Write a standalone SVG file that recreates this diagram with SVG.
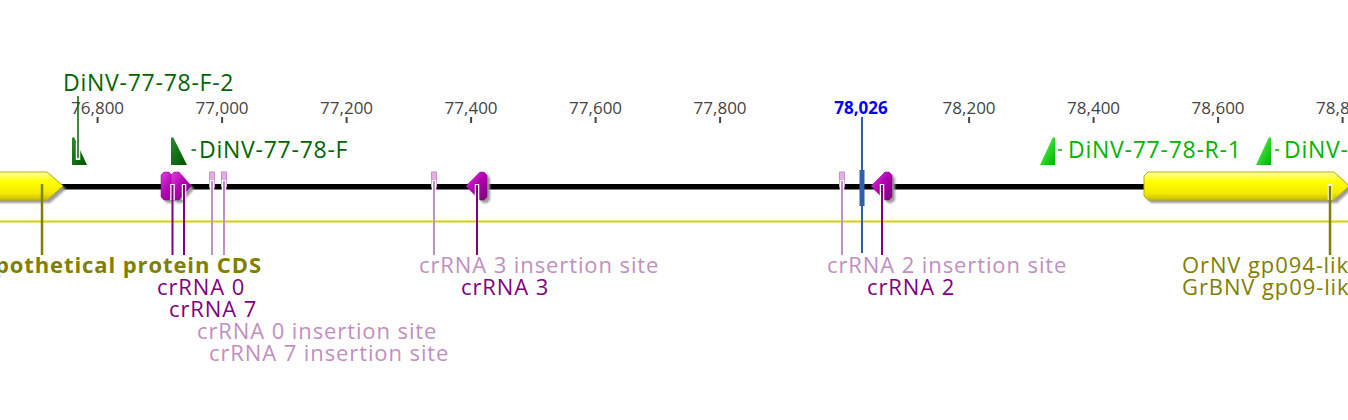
<svg xmlns="http://www.w3.org/2000/svg" width="1348" height="420" viewBox="0 0 1348 420">
<defs>
  <linearGradient id="gy" x1="0" y1="0" x2="0" y2="1">
    <stop offset="0" stop-color="#ffffa0"/>
    <stop offset="0.35" stop-color="#ffff00"/>
    <stop offset="0.75" stop-color="#f2ea00"/>
    <stop offset="1" stop-color="#c8bc00"/>
  </linearGradient>
  <linearGradient id="gm" x1="0" y1="0" x2="1" y2="1">
    <stop offset="0" stop-color="#e040e0"/>
    <stop offset="0.5" stop-color="#b000b0"/>
    <stop offset="1" stop-color="#7a007a"/>
  </linearGradient>
  <linearGradient id="gdg" x1="0" y1="0" x2="1" y2="1">
    <stop offset="0" stop-color="#2a8a2a"/>
    <stop offset="1" stop-color="#005400"/>
  </linearGradient>
  <linearGradient id="gbg" x1="0" y1="0" x2="1" y2="1">
    <stop offset="0" stop-color="#60ff60"/>
    <stop offset="1" stop-color="#00b000"/>
  </linearGradient>
  <filter id="blur" x="-20%" y="-20%" width="140%" height="140%">
    <feGaussianBlur stdDeviation="1.2"/>
  </filter>
</defs>
<style>
  text{font-family:"Open Sans","Noto Sans",sans-serif}
  .tick{stroke:#444;stroke-width:2}
  .tl{font-size:17px;fill:#444;text-anchor:middle}
  .lab{font-size:22px;letter-spacing:0.9px}
  .prim{font-size:23px;letter-spacing:0.75px}
  .olive{fill:#808000}
  .purp{fill:#800080}
  .pale{fill:#bf8fbf}
  .dg{fill:#006400}
  .bg{fill:#00b400}
  .shadow{fill:#9a9a9a;filter:url(#blur)}
  .cds{fill:url(#gy);stroke:#c0b000;stroke-width:1}
  .cr{fill:url(#gm);stroke:#8a008a;stroke-width:0.5}
  .ins{fill:#e4aee4;stroke:#c890c8;stroke-width:1}
  .halo{stroke:#fff;stroke-width:4.5}
  .lp{stroke:#800080;stroke-width:2}
  .li{stroke:#c090c0;stroke-width:2}
  .lo{stroke:#808000;stroke-width:2.5}
  .ldg{stroke:#006400;stroke-width:1.5}
  .lbg{stroke:#00b400;stroke-width:1.5}
</style>

<g id="ruler">
  <line class="tick" x1="97.6" y1="117" x2="97.6" y2="123"/>
  <line class="tick" x1="222.1" y1="117" x2="222.1" y2="123"/>
  <line class="tick" x1="346.6" y1="117" x2="346.6" y2="123"/>
  <line class="tick" x1="471.1" y1="117" x2="471.1" y2="123"/>
  <line class="tick" x1="595.6" y1="117" x2="595.6" y2="123"/>
  <line class="tick" x1="720.1" y1="117" x2="720.1" y2="123"/>
  <line class="tick" x1="969.1" y1="117" x2="969.1" y2="123"/>
  <line class="tick" x1="1093.6" y1="117" x2="1093.6" y2="123"/>
  <line class="tick" x1="1218.1" y1="117" x2="1218.1" y2="123"/>
  <line class="tick" x1="1342.6" y1="117" x2="1342.6" y2="123"/>
  <text class="tl" x="-26.9" y="113.5">76,600</text>
  <text class="tl" x="97.6" y="113.5">76,800</text>
  <text class="tl" x="222.1" y="113.5">77,000</text>
  <text class="tl" x="346.6" y="113.5">77,200</text>
  <text class="tl" x="471.1" y="113.5">77,400</text>
  <text class="tl" x="595.6" y="113.5">77,600</text>
  <text class="tl" x="720.1" y="113.5">77,800</text>
  <text class="tl" x="969.1" y="113.5">78,200</text>
  <text class="tl" x="1093.6" y="113.5">78,400</text>
  <text class="tl" x="1218.1" y="113.5">78,600</text>
  <text class="tl" x="1342.6" y="113.5">78,800</text>
</g>

<g id="sequence">
  <rect x="0" y="184" width="1348" height="5.5" fill="#000"/>
  <rect x="0" y="220.5" width="1348" height="2" fill="#d8d000"/>
</g>

<g id="cds-hypothetical">
  <polygon class="shadow" points="-5,175 50,175 66,189 50,203 -5,203"/>
  <polygon class="cds" points="-5,172 47,172 63,186 47,200 -5,200"/>
  <text class="lab olive" x="262" y="273" text-anchor="end" font-weight="bold" letter-spacing="0">hypothetical protein CDS</text>
</g>

<g id="cds-ornv">
  <polygon class="shadow" points="1147,179 1151,175 1337,175 1352,189 1337,203 1151,203 1147,199"/>
  <polygon class="cds" points="1144,176 1148,172 1334,172 1349,186 1334,200 1148,200 1144,196"/>
  <text class="lab olive" x="1182" y="273">OrNV gp094-like</text>
  <text class="lab olive" x="1182" y="295">GrBNV gp09-like</text>
</g>

<g id="crRNA-0">
  <polygon class="shadow" points="164,178 167,175 172,175 184,189 172,203 167,203 164,200"/>
  <polygon class="cr" points="161,175 164,172 169,172 181,186 169,200 164,200 161,197"/>
  <text class="lab purp" x="157" y="295">crRNA 0</text>
</g>
<g id="crRNA-7">
  <polygon class="shadow" points="174,178 177,175 182,175 194,189 182,203 177,203 174,200"/>
  <polygon class="cr" points="171,175 174,172 179,172 191,186 179,200 174,200 171,197"/>
  <text class="lab purp" x="169" y="317">crRNA 7</text>
</g>
<g id="crRNA-0-insertion-site">
  <rect class="ins" x="209.5" y="172" width="5" height="15"/>
  <text class="lab pale" x="197" y="339">crRNA 0 insertion site</text>
</g>
<g id="crRNA-7-insertion-site">
  <rect class="ins" x="221.5" y="172" width="5" height="15"/>
  <text class="lab pale" x="209" y="361">crRNA 7 insertion site</text>
</g>
<g id="crRNA-3-insertion-site">
  <rect class="ins" x="431.5" y="172" width="5" height="15"/>
  <text class="lab pale" x="419" y="273">crRNA 3 insertion site</text>
</g>
<g id="crRNA-3">
  <polygon class="shadow" points="490,178 487,175 483,175 469,189 483,203 487,203 490,200"/>
  <polygon class="cr" points="487,175 484,172 480,172 466,186 480,200 484,200 487,197"/>
  <text class="lab purp" x="461" y="295">crRNA 3</text>
</g>
<g id="crRNA-2-insertion-site">
  <rect class="ins" x="839.5" y="172" width="5" height="15"/>
  <text class="lab pale" x="827" y="273">crRNA 2 insertion site</text>
</g>
<g id="crRNA-2">
  <polygon class="shadow" points="895,178 892,175 888,175 874,189 888,203 892,203 895,200"/>
  <polygon class="cr" points="892,175 889,172 885,172 871,186 885,200 889,200 892,197"/>
  <text class="lab purp" x="867" y="295">crRNA 2</text>
</g>

<g id="primer-F-2">
  <polygon fill="url(#gdg)" points="72,165 72,138 74,137 87,165"/>
  <text class="prim dg" x="63" y="91">DiNV-77-78-F-2</text>
</g>
<g id="primer-F">
  <polygon fill="url(#gdg)" points="171,165 171,138 173,137 187,165"/>
  <text class="prim dg" x="199" y="158">DiNV-77-78-F</text>
</g>
<g id="primer-R-1">
  <polygon fill="url(#gbg)" points="1040,165 1053,137 1055,138 1055,165"/>
  <text class="prim bg" x="1068" y="158">DiNV-77-78-R-1</text>
</g>
<g id="primer-R-2">
  <polygon fill="url(#gbg)" points="1256,165 1269,137 1271,138 1271,165"/>
  <text class="prim bg" x="1284" y="158">DiNV-77-78-R-2</text>
</g>

<g id="connectors">
  <line class="lo" x1="42" y1="184" x2="42" y2="255"/>
  <line class="halo" x1="1330" y1="184" x2="1330" y2="200"/>
  <line class="lo" x1="1330" y1="186" x2="1330" y2="255"/>

  <line class="halo" x1="172.5" y1="184" x2="172.5" y2="200"/>
  <line class="lp" x1="172.5" y1="185" x2="172.5" y2="255"/>
  <line class="halo" x1="184" y1="184" x2="184" y2="200"/>
  <line class="lp" x1="184" y1="185" x2="184" y2="255"/>
  <line class="halo" x1="477" y1="184" x2="477" y2="200"/>
  <line class="lp" x1="477" y1="185" x2="477" y2="255"/>
  <line class="halo" x1="882" y1="184" x2="882" y2="200"/>
  <line class="lp" x1="882" y1="185" x2="882" y2="255"/>

  <line class="halo" x1="212" y1="180" x2="212" y2="200"/>
  <line class="li" x1="212" y1="181" x2="212" y2="255"/>
  <line class="halo" x1="224" y1="180" x2="224" y2="200"/>
  <line class="li" x1="224" y1="181" x2="224" y2="255"/>
  <line class="halo" x1="434" y1="180" x2="434" y2="200"/>
  <line class="li" x1="434" y1="181" x2="434" y2="255"/>
  <line class="halo" x1="842" y1="180" x2="842" y2="200"/>
  <line class="li" x1="842" y1="181" x2="842" y2="255"/>

  <line class="halo" x1="78" y1="142" x2="78" y2="160" stroke-width="4"/>
  <line class="ldg" x1="78" y1="96" x2="78" y2="158"/>
  <line class="ldg" x1="191.5" y1="150" x2="196" y2="150"/>
  <line class="lbg" x1="1058" y1="150" x2="1062" y2="150"/>
  <line class="lbg" x1="1275" y1="150" x2="1279" y2="150"/>
</g>

<g id="cursor">
  <line x1="862" y1="117" x2="862" y2="253" stroke="#2f5fa8" stroke-width="2"/>
  <rect x="859.5" y="170" width="5" height="36" fill="#2f5fa8"/>
  <text x="861" y="113.5" font-size="17" font-weight="bold" fill="#0000ff" text-anchor="middle">78,026</text>
</g>
</svg>
